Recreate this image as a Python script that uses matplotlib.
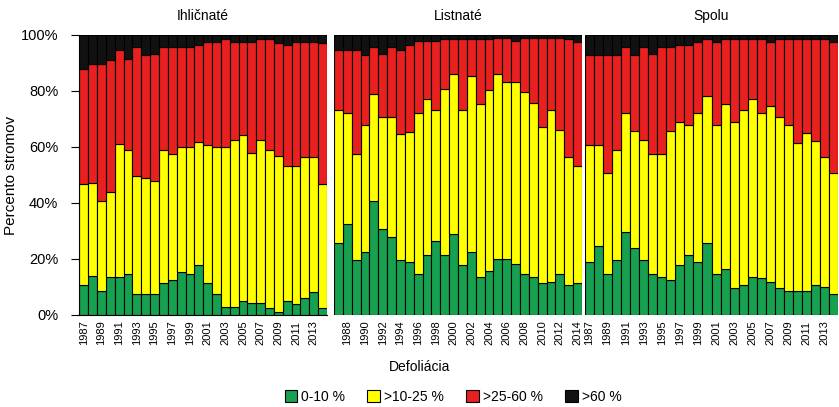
import numpy as np
import matplotlib
matplotlib.use("Agg")
import matplotlib.pyplot as plt
from matplotlib.patches import Patch

plt.rcParams['font.family'] = ['Liberation Sans', 'DejaVu Sans']

years = list(range(1987, 2015))

# podiel stromov v triedach defoliacie (%) - kumulativne hranice odcitane z grafu
ihl_g = [10.7, 14.0, 8.4, 13.7, 13.7, 14.6, 7.4, 7.4, 7.4, 11.3, 12.5, 15.5, 14.6, 17.7,
         11.3, 7.4, 3.0, 3.0, 5.0, 4.4, 4.4, 2.4, 1.2, 5.0, 3.8, 6.2, 8.1, 2.4]
ihl_y = [46.9, 47.1, 40.6, 43.8, 60.9, 58.8, 49.5, 48.9, 47.7, 58.8, 57.6, 60.0, 60.0, 61.8,
         60.6, 60.0, 60.0, 62.6, 64.4, 57.9, 62.6, 58.8, 56.9, 53.1, 53.1, 56.3, 56.3, 46.9]
ihl_r = [87.7, 89.5, 89.5, 90.9, 94.5, 91.5, 95.7, 92.7, 93.3, 95.7, 95.7, 95.7, 95.7, 96.4,
         97.6, 97.6, 98.4, 97.6, 97.6, 97.6, 98.4, 98.4, 97.0, 96.4, 97.6, 97.6, 97.6, 97.0]

lis_g = [25.7, 32.6, 19.5, 22.4, 40.8, 30.8, 27.7, 19.5, 18.9, 14.6, 21.5, 26.5, 21.5, 28.9,
         17.7, 22.4, 13.7, 15.8, 19.9, 19.9, 18.3, 14.6, 13.7, 11.3, 11.9, 14.6, 10.7, 11.3]
lis_y = [73.2, 72.2, 57.6, 67.8, 79.0, 70.8, 70.8, 64.7, 65.3, 72.2, 77.0, 73.2, 80.8, 85.9,
         73.2, 85.3, 75.2, 80.2, 85.9, 83.3, 83.3, 79.6, 75.8, 67.1, 73.2, 65.9, 56.3, 53.1]
lis_r = [94.5, 94.5, 94.5, 92.7, 95.7, 93.3, 95.7, 94.5, 96.4, 97.9, 97.9, 97.9, 98.4, 98.4,
         98.4, 98.4, 98.4, 98.4, 98.8, 98.8, 97.9, 98.8, 98.8, 98.8, 98.8, 98.8, 98.4, 97.6]

spo_g = [18.9, 24.7, 14.6, 19.5, 29.6, 23.9, 19.5, 14.6, 13.7, 12.5, 17.7, 21.5, 18.9, 25.7,
         14.6, 16.3, 9.5, 10.7, 13.7, 13.1, 11.9, 9.5, 8.7, 8.7, 8.7, 10.7, 9.9, 7.4]
spo_y = [60.6, 60.6, 50.7, 58.8, 72.2, 65.6, 62.6, 57.5, 57.5, 65.6, 68.9, 67.7, 72.0, 78.2,
         67.7, 75.2, 68.9, 73.2, 77.0, 72.0, 74.6, 70.6, 67.7, 61.5, 65.0, 62.1, 56.3, 50.7]
spo_r = [92.7, 92.7, 92.7, 92.7, 95.7, 92.7, 95.7, 93.3, 95.7, 95.7, 96.4, 96.4, 97.6, 98.4,
         97.6, 98.4, 98.4, 98.4, 98.4, 98.4, 97.6, 98.4, 98.4, 98.4, 98.4, 98.4, 98.4, 97.6]

titles = ['Ihličnaté', 'Listnaté', 'Spolu']
classes = ['0-10 %', '>10-25 %', '>25-60 %', '>60 %']
colors = ['#17a04f', '#ffff00', '#e8201f', '#111111']
tick_start = [0, 1, 0]  # Listnate ma popisky v parnych rokoch

data = [(ihl_g, ihl_y, ihl_r), (lis_g, lis_y, lis_r), (spo_g, spo_y, spo_r)]

W, H = 839, 407
fig = plt.figure(figsize=(W / 100, H / 100), dpi=100)
# pozicie panelov v pixeloch (lavy okraj, pravy okraj)
boxes = [(79, 327), (334, 582), (585, 838)]
for k in range(3):
    x0, x1 = boxes[k]
    ax = fig.add_axes([x0 / W, 1 - 315 / H, (x1 - x0) / W, 280 / H])
    g, y, r = [np.array(v) for v in data[k]]
    parts = [g, y - g, r - y, 100 - r]
    x = np.arange(len(years))
    bottom = np.zeros(len(years))
    for p, c in zip(parts, colors):
        ax.bar(x, p, bottom=bottom, width=1.0, color=c, edgecolor='black', linewidth=0.8)
        bottom += p
    ax.set_xlim(-0.55 if k == 0 else -0.5, len(years) - 0.5)
    ax.set_ylim(0, 100)
    ticks = x[tick_start[k]::2]
    ax.set_xticks(ticks)
    ax.set_xticklabels([str(years[i]) for i in ticks], rotation=90, fontsize=8)
    ax.tick_params(axis='x', length=0, pad=4)
    ax.set_title(titles[k], fontsize=10, pad=11)
    for s in ['top', 'right']:
        ax.spines[s].set_visible(False)
    if k == 0:
        ax.set_yticks([0, 20, 40, 60, 80, 100])
        ax.set_yticklabels(['0%', '20%', '40%', '60%', '80%', '100%'], fontsize=10.5)
        ax.tick_params(axis='y', length=6, width=0.8, direction='out', pad=9)
        ax.set_ylabel('Percento stromov', fontsize=11, labelpad=2)
        ax.spines['bottom'].set_linewidth(0.8)
    else:
        ax.set_yticks([])
        ax.spines['left'].set_visible(False)
        ax.spines['bottom'].set_visible(False)

fig.text(0.50, 1 - 367 / H, 'Defoliácia', ha='center', va='center', fontsize=10)

handles = [Patch(facecolor=c, edgecolor='black', linewidth=0.8) for c in colors]
fig.legend(handles, classes, loc='center', bbox_to_anchor=(453 / W, 1 - 397 / H), ncol=4,
           frameon=False, fontsize=10, handlelength=0.9, handleheight=0.9,
           handletextpad=0.3, columnspacing=1.6, borderpad=0)

fig.savefig('out.png', dpi=100)
